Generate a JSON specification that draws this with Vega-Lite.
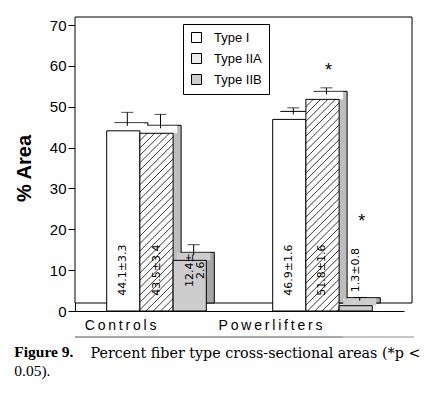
{
  "$schema": "https://vega.github.io/schema/vega-lite/v6.json",
  "width": 329,
  "height": 286,
  "autosize": {"type": "none"},
  "padding": {"left": 75, "top": 25, "right": 33, "bottom": 84},
  "background": "white",
  "config": {"view": {"stroke": null}, "font": "Liberation Sans"},
  "title": {
    "text": "Figure 9.",
    "subtitle": "0.05).",
    "orient": "bottom",
    "anchor": "start",
    "frame": "bounds",
    "font": "Liberation Serif",
    "fontSize": 15.5,
    "fontWeight": "bold",
    "color": "black",
    "subtitleFont": "Liberation Serif",
    "subtitleFontSize": 15.5,
    "subtitleColor": "black",
    "subtitlePadding": 3,
    "offset": -15
  },
  "data": {
    "values": [
      {"bar": "Controls: Type I", "group": "Controls", "type": "Type I", "mean": 44.1, "sd": 3.3, "hi": 47.4, "label": "44.1±3.3", "star": false, "star_y": null},
      {"bar": "Controls: Type IIA", "group": "Controls", "type": "Type IIA", "mean": 43.5, "sd": 3.4, "hi": 46.9, "label": "43.5±3.4", "star": false, "star_y": null},
      {"bar": "Controls: Type IIB", "group": "Controls", "type": "Type IIB", "mean": 12.4, "sd": 2.6, "hi": 15.0, "label": "12.4±\n2.6", "star": false, "star_y": null},
      {"bar": "Powerlifters: Type I", "group": "Powerlifters", "type": "Type I", "mean": 46.9, "sd": 1.6, "hi": 48.5, "label": "46.9±1.6", "star": false, "star_y": null},
      {"bar": "Powerlifters: Type IIA", "group": "Powerlifters", "type": "Type IIA", "mean": 51.8, "sd": 1.6, "hi": 53.4, "label": "51.8±1.6", "star": true, "star_y": 59.7},
      {"bar": "Powerlifters: Type IIB", "group": "Powerlifters", "type": "Type IIB", "mean": 1.3, "sd": 0.8, "hi": 2.1, "label": "1.3±0.8", "star": true, "star_y": 22.8}
    ]
  },
  "layer": [
    {
      "data": {"values": [{"k": "wall"}]},
      "mark": {"type": "rect", "fill": "white", "stroke": "black", "strokeWidth": 1, "xOffset": 8, "yOffset": -8, "y2Offset": -8},
      "encoding": {
        "y": {"datum": 70, "type": "quantitative", "scale": {"domain": [0, 70], "nice": false}},
        "y2": {"datum": 0}
      }
    },
    {
      "mark": {"type": "bar", "stroke": "black", "strokeWidth": 1, "xOffset": 8, "yOffset": -8, "y2Offset": -8},
      "encoding": {
        "x": {
          "field": "bar", "type": "nominal",
          "scale": {
            "type": "band",
            "domain": ["Controls: Type I", "Controls: Type IIA", "Controls: Type IIB", " ", "  ", "Powerlifters: Type I", "Powerlifters: Type IIA", "Powerlifters: Type IIB"],
            "paddingInner": 0, "paddingOuter": 0.955
          }
        },
        "y": {"field": "mean", "type": "quantitative"},
        "fill": {"condition": [{"test": "datum.type === 'Type IIA'", "value": "#bdbdbd"}, {"test": "datum.type === 'Type IIB'", "value": "#a6a6a6"}], "value": "white"}
      }
    },
    {
      "mark": {"type": "bar", "strokeWidth": 0, "xOffset": 4, "yOffset": -7.5, "y2Offset": 0},
      "encoding": {
        "x": {"field": "bar", "type": "nominal"},
        "y": {"field": "mean", "type": "quantitative"},
        "y2": {"field": "mean"},
        "fill": {"condition": {"test": "datum.type === 'Type IIB'", "value": "#cdcdcd"}, "value": "white"}
      }
    },
    {
      "mark": {"type": "bar", "stroke": "black", "strokeWidth": 1},
      "encoding": {
        "x": {
          "field": "bar", "type": "nominal",
          "axis": {
            "values": ["Controls: Type IIA", "Powerlifters: Type IIA"],
            "title": "Percent fiber type cross-sectional areas (*p <",
            "titleFont": "DejaVu Serif", "titleFontSize": 14.3, "titleFontWeight": "normal", "titleColor": "black",
            "titleX": 15, "titleY": 46, "titleAlign": "left", "titleBaseline": "alphabetic", "titleAnchor": "start",
            "ticks": false, "domainColor": "black", "labelColor": "black",
            "labelFontSize": 14, "labelPadding": 14, "labelAngle": 0,
            "labelExpr": "datum.value === 'Controls: Type IIA' ? 'C\u2009o\u2009n\u2009t\u2009r\u2009o\u2009l\u2009s' : 'P\u2009o\u2009w\u2009e\u2009r\u2009l\u2009i\u2009f\u2009t\u2009e\u2009r\u2009s'"
          }
        },
        "y": {
          "field": "mean", "type": "quantitative",
          "axis": {
            "title": "% Area", "titleFont": "Liberation Sans", "titleFontSize": 20, "titleFontWeight": "bold", "titleColor": "black", "titlePadding": 15,
            "values": [0, 5, 10, 15, 20, 25, 30, 35, 40, 45, 50, 55, 60, 65, 70],
            "labelExpr": "datum.value % 10 === 0 ? datum.label : ''",
            "tickSize": {"condition": {"test": "datum.value % 10 === 0", "value": 7}, "value": 3},
            "labelFontSize": 15, "labelColor": "black", "tickColor": "black", "domainColor": "black", "grid": false, "labelPadding": 2
          }
        },
        "fill": {
          "field": "type", "type": "nominal",
          "scale": {"domain": ["Type I", "Type IIA", "Type IIB"], "range": ["white", "#ececec", "#cdcdcd"]},
          "condition": [
            {"test": "datum.bar === 'Controls: Type IIA'", "value": {"gradient": "linear", "x1": 0, "y1": 0, "x2": 0.2488, "y2": 1.332, "stops": [
              {"offset": 0, "color": "#333"}, {"offset": 0.004, "color": "#fff"}, {"offset": 0.026, "color": "#fff"},
              {"offset": 0.03, "color": "#333"}, {"offset": 0.034, "color": "#fff"}, {"offset": 0.056, "color": "#fff"},
              {"offset": 0.06, "color": "#333"}, {"offset": 0.064, "color": "#fff"}, {"offset": 0.086, "color": "#fff"},
              {"offset": 0.09, "color": "#333"}, {"offset": 0.094, "color": "#fff"}, {"offset": 0.116, "color": "#fff"},
              {"offset": 0.12, "color": "#333"}, {"offset": 0.124, "color": "#fff"}, {"offset": 0.146, "color": "#fff"},
              {"offset": 0.15, "color": "#333"}, {"offset": 0.154, "color": "#fff"}, {"offset": 0.176, "color": "#fff"},
              {"offset": 0.18, "color": "#333"}, {"offset": 0.184, "color": "#fff"}, {"offset": 0.206, "color": "#fff"},
              {"offset": 0.21, "color": "#333"}, {"offset": 0.214, "color": "#fff"}, {"offset": 0.236, "color": "#fff"},
              {"offset": 0.24, "color": "#333"}, {"offset": 0.244, "color": "#fff"}, {"offset": 0.266, "color": "#fff"},
              {"offset": 0.27, "color": "#333"}, {"offset": 0.274, "color": "#fff"}, {"offset": 0.296, "color": "#fff"},
              {"offset": 0.30, "color": "#333"}, {"offset": 0.304, "color": "#fff"}, {"offset": 0.326, "color": "#fff"},
              {"offset": 0.33, "color": "#333"}, {"offset": 0.334, "color": "#fff"}, {"offset": 0.356, "color": "#fff"},
              {"offset": 0.36, "color": "#333"}, {"offset": 0.364, "color": "#fff"}, {"offset": 0.386, "color": "#fff"},
              {"offset": 0.39, "color": "#333"}, {"offset": 0.394, "color": "#fff"}, {"offset": 0.416, "color": "#fff"},
              {"offset": 0.42, "color": "#333"}, {"offset": 0.424, "color": "#fff"}, {"offset": 0.446, "color": "#fff"},
              {"offset": 0.45, "color": "#333"}, {"offset": 0.454, "color": "#fff"}, {"offset": 0.476, "color": "#fff"},
              {"offset": 0.48, "color": "#333"}, {"offset": 0.484, "color": "#fff"}, {"offset": 0.506, "color": "#fff"},
              {"offset": 0.51, "color": "#333"}, {"offset": 0.514, "color": "#fff"}, {"offset": 0.536, "color": "#fff"},
              {"offset": 0.54, "color": "#333"}, {"offset": 0.544, "color": "#fff"}, {"offset": 0.566, "color": "#fff"},
              {"offset": 0.57, "color": "#333"}, {"offset": 0.574, "color": "#fff"}, {"offset": 0.596, "color": "#fff"},
              {"offset": 0.60, "color": "#333"}, {"offset": 0.604, "color": "#fff"}, {"offset": 0.626, "color": "#fff"},
              {"offset": 0.63, "color": "#333"}, {"offset": 0.634, "color": "#fff"}, {"offset": 0.656, "color": "#fff"},
              {"offset": 0.66, "color": "#333"}, {"offset": 0.664, "color": "#fff"}, {"offset": 0.686, "color": "#fff"},
              {"offset": 0.69, "color": "#333"}, {"offset": 0.694, "color": "#fff"}, {"offset": 0.716, "color": "#fff"},
              {"offset": 0.72, "color": "#333"}, {"offset": 0.724, "color": "#fff"}, {"offset": 0.746, "color": "#fff"},
              {"offset": 0.75, "color": "#333"}, {"offset": 0.754, "color": "#fff"}, {"offset": 0.776, "color": "#fff"},
              {"offset": 0.78, "color": "#333"}, {"offset": 0.784, "color": "#fff"}, {"offset": 0.806, "color": "#fff"},
              {"offset": 0.81, "color": "#333"}, {"offset": 0.814, "color": "#fff"}, {"offset": 0.836, "color": "#fff"},
              {"offset": 0.84, "color": "#333"}, {"offset": 0.844, "color": "#fff"}, {"offset": 0.866, "color": "#fff"},
              {"offset": 0.87, "color": "#333"}, {"offset": 0.874, "color": "#fff"}, {"offset": 0.896, "color": "#fff"},
              {"offset": 0.90, "color": "#333"}, {"offset": 0.904, "color": "#fff"}, {"offset": 0.926, "color": "#fff"},
              {"offset": 0.93, "color": "#333"}, {"offset": 0.934, "color": "#fff"}, {"offset": 0.956, "color": "#fff"},
              {"offset": 0.96, "color": "#333"}, {"offset": 0.964, "color": "#fff"}, {"offset": 0.986, "color": "#fff"},
              {"offset": 0.99, "color": "#333"}, {"offset": 0.994, "color": "#fff"}, {"offset": 1, "color": "#fff"}
            ]}},
            {"test": "datum.bar === 'Powerlifters: Type IIA'", "value": {"gradient": "linear", "x1": 0, "y1": 0, "x2": 0.1772, "y2": 1.1298, "stops": [
              {"offset": 0, "color": "#333"}, {"offset": 0.004, "color": "#fff"}, {"offset": 0.026, "color": "#fff"},
              {"offset": 0.03, "color": "#333"}, {"offset": 0.034, "color": "#fff"}, {"offset": 0.056, "color": "#fff"},
              {"offset": 0.06, "color": "#333"}, {"offset": 0.064, "color": "#fff"}, {"offset": 0.086, "color": "#fff"},
              {"offset": 0.09, "color": "#333"}, {"offset": 0.094, "color": "#fff"}, {"offset": 0.116, "color": "#fff"},
              {"offset": 0.12, "color": "#333"}, {"offset": 0.124, "color": "#fff"}, {"offset": 0.146, "color": "#fff"},
              {"offset": 0.15, "color": "#333"}, {"offset": 0.154, "color": "#fff"}, {"offset": 0.176, "color": "#fff"},
              {"offset": 0.18, "color": "#333"}, {"offset": 0.184, "color": "#fff"}, {"offset": 0.206, "color": "#fff"},
              {"offset": 0.21, "color": "#333"}, {"offset": 0.214, "color": "#fff"}, {"offset": 0.236, "color": "#fff"},
              {"offset": 0.24, "color": "#333"}, {"offset": 0.244, "color": "#fff"}, {"offset": 0.266, "color": "#fff"},
              {"offset": 0.27, "color": "#333"}, {"offset": 0.274, "color": "#fff"}, {"offset": 0.296, "color": "#fff"},
              {"offset": 0.30, "color": "#333"}, {"offset": 0.304, "color": "#fff"}, {"offset": 0.326, "color": "#fff"},
              {"offset": 0.33, "color": "#333"}, {"offset": 0.334, "color": "#fff"}, {"offset": 0.356, "color": "#fff"},
              {"offset": 0.36, "color": "#333"}, {"offset": 0.364, "color": "#fff"}, {"offset": 0.386, "color": "#fff"},
              {"offset": 0.39, "color": "#333"}, {"offset": 0.394, "color": "#fff"}, {"offset": 0.416, "color": "#fff"},
              {"offset": 0.42, "color": "#333"}, {"offset": 0.424, "color": "#fff"}, {"offset": 0.446, "color": "#fff"},
              {"offset": 0.45, "color": "#333"}, {"offset": 0.454, "color": "#fff"}, {"offset": 0.476, "color": "#fff"},
              {"offset": 0.48, "color": "#333"}, {"offset": 0.484, "color": "#fff"}, {"offset": 0.506, "color": "#fff"},
              {"offset": 0.51, "color": "#333"}, {"offset": 0.514, "color": "#fff"}, {"offset": 0.536, "color": "#fff"},
              {"offset": 0.54, "color": "#333"}, {"offset": 0.544, "color": "#fff"}, {"offset": 0.566, "color": "#fff"},
              {"offset": 0.57, "color": "#333"}, {"offset": 0.574, "color": "#fff"}, {"offset": 0.596, "color": "#fff"},
              {"offset": 0.60, "color": "#333"}, {"offset": 0.604, "color": "#fff"}, {"offset": 0.626, "color": "#fff"},
              {"offset": 0.63, "color": "#333"}, {"offset": 0.634, "color": "#fff"}, {"offset": 0.656, "color": "#fff"},
              {"offset": 0.66, "color": "#333"}, {"offset": 0.664, "color": "#fff"}, {"offset": 0.686, "color": "#fff"},
              {"offset": 0.69, "color": "#333"}, {"offset": 0.694, "color": "#fff"}, {"offset": 0.716, "color": "#fff"},
              {"offset": 0.72, "color": "#333"}, {"offset": 0.724, "color": "#fff"}, {"offset": 0.746, "color": "#fff"},
              {"offset": 0.75, "color": "#333"}, {"offset": 0.754, "color": "#fff"}, {"offset": 0.776, "color": "#fff"},
              {"offset": 0.78, "color": "#333"}, {"offset": 0.784, "color": "#fff"}, {"offset": 0.806, "color": "#fff"},
              {"offset": 0.81, "color": "#333"}, {"offset": 0.814, "color": "#fff"}, {"offset": 0.836, "color": "#fff"},
              {"offset": 0.84, "color": "#333"}, {"offset": 0.844, "color": "#fff"}, {"offset": 0.866, "color": "#fff"},
              {"offset": 0.87, "color": "#333"}, {"offset": 0.874, "color": "#fff"}, {"offset": 0.896, "color": "#fff"},
              {"offset": 0.90, "color": "#333"}, {"offset": 0.904, "color": "#fff"}, {"offset": 0.926, "color": "#fff"},
              {"offset": 0.93, "color": "#333"}, {"offset": 0.934, "color": "#fff"}, {"offset": 0.956, "color": "#fff"},
              {"offset": 0.96, "color": "#333"}, {"offset": 0.964, "color": "#fff"}, {"offset": 0.986, "color": "#fff"},
              {"offset": 0.99, "color": "#333"}, {"offset": 0.994, "color": "#fff"}, {"offset": 1, "color": "#fff"}
            ]}}
          ],
          "legend": {
            "title": null, "orient": "none", "legendX": 108, "legendY": -1,
            "strokeColor": "black", "fillColor": "white", "padding": 7,
            "symbolType": "square", "symbolSize": 100, "symbolStrokeColor": "black", "symbolStrokeWidth": 1,
            "labelFontSize": 13, "labelColor": "black", "labelOffset": 11, "rowPadding": 6,
            "encode": {
              "symbols": {
                "update": {
                  "stroke": {"value": "black"},
                  "strokeWidth": {"value": 1},
                  "opacity": {"value": 1}
                }
              }
            }
          }
        }
      }
    },
    {
      "mark": {"type": "rule", "color": "black", "strokeWidth": 1, "xOffset": 4, "yOffset": -5, "y2Offset": -5},
      "encoding": {
        "x": {"field": "bar", "type": "nominal"},
        "y": {"field": "mean", "type": "quantitative"},
        "y2": {"field": "hi"}
      }
    },
    {
      "mark": {"type": "tick", "orient": "horizontal", "size": 12, "thickness": 1, "color": "black", "xOffset": 4, "yOffset": -5},
      "encoding": {
        "x": {"field": "bar", "type": "nominal"},
        "y": {"field": "hi", "type": "quantitative"}
      }
    },
    {
      "mark": {"type": "text", "angle": 270, "align": "center", "baseline": "middle", "font": "DejaVu Sans", "fontSize": 11, "lineBreak": "\n", "lineHeight": 11, "color": "black"},
      "encoding": {
        "x": {"field": "bar", "type": "nominal"},
        "y": {"datum": 10, "type": "quantitative"},
        "text": {"field": "label"}
      }
    },
    {
      "transform": [{"filter": "datum.star"}],
      "mark": {"type": "text", "fontSize": 18, "baseline": "middle", "align": "center", "dx": 6, "dy": 4, "color": "black"},
      "encoding": {
        "x": {"field": "bar", "type": "nominal"},
        "y": {"field": "star_y", "type": "quantitative"},
        "text": {"value": "*"}
      }
    },
    {
      "data": {"values": [{"k": "line"}]},
      "mark": {"type": "rule", "color": "#8c8c8c", "strokeWidth": 1, "yOffset": 26, "xOffset": -61},
      "encoding": {"y": {"datum": 0, "type": "quantitative"}}
    },
    {
      "data": {"values": [{"k": "line"}]},
      "mark": {"type": "rule", "color": "#8c8c8c", "strokeWidth": 1, "yOffset": 26, "xOffset": 10},
      "encoding": {"y": {"datum": 0, "type": "quantitative"}}
    }
  ]
}
